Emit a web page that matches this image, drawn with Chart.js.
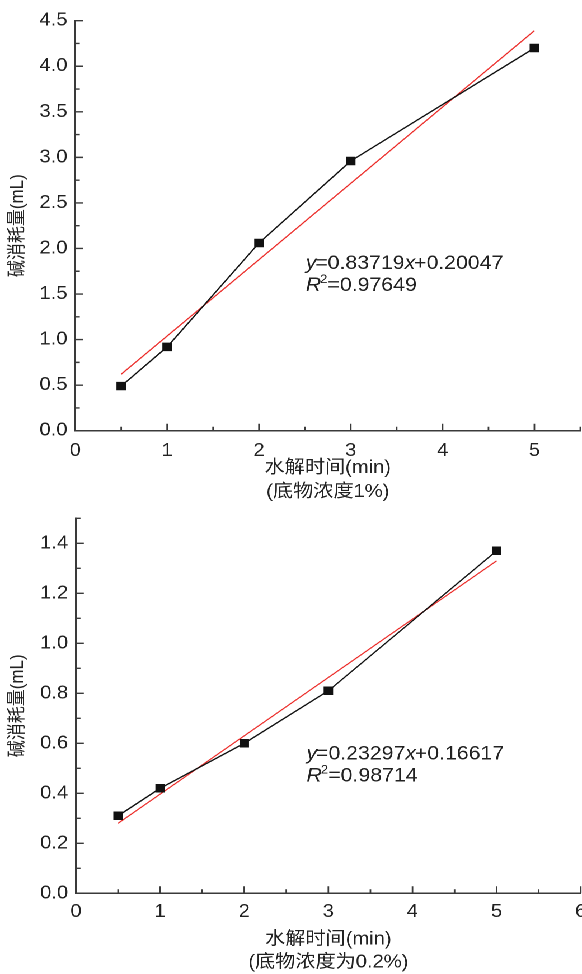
<!DOCTYPE html>
<html>
<head>
<meta charset="utf-8">
<script src="https://cdn.jsdelivr.net/npm/chart.js@4"></script>
<style>
  html, body { margin: 0; padding: 0; background: #fff; overflow: hidden; }
  #wrap { position: absolute; left: 0; top: 0; width: 520px; height: 974px; transform: scaleX(1.1192); transform-origin: 0 0; }
  canvas { position: absolute; left: 0; display: block; }
</style>
</head>
<body>
<div id="wrap">
  <canvas id="topChart" width="520" height="505" style="top:0"></canvas>
  <canvas id="bottomChart" width="520" height="469" style="top:505px"></canvas>
</div>
<script>
// measured values
const hydrolysisTime = [0.5, 1, 2, 3, 5];
const alkaliTop = [0.49, 0.92, 2.06, 2.96, 4.20];
const alkaliBottom = [0.31, 0.42, 0.60, 0.81, 1.37];

// fitted lines, read at both ends
const fitX = [0.5, 5];
const fitTop = [0.62, 4.39];
const fitBottom = [0.28, 1.33];

// equation text: slope, intercept, R^2
const eqTop = ['0.83719', '0.20047', '0.97649'];
const eqBottom = ['0.23297', '0.16617', '0.98714'];

const yTitle = '碱消耗量(mL)';
const xTitleTop = ['水解时间(min)', '(底物浓度1%)'];
const xTitleBottom = ['水解时间(min)', '(底物浓度为0.2%)'];

const FONT = "'Liberation Sans', 'Noto Sans CJK SC', Arial, sans-serif";
const INK = '#222';
const AXIS = '#3a3a3a';

Chart.defaults.font.family = FONT;
Chart.defaults.color = INK;

function pts(xs, ys) {
  return xs.map(function (x, i) { return { x: x, y: ys[i] }; });
}

// ticks drawn inward (major + minor)
const inwardTicks = {
  id: 'inwardTicks',
  afterDraw(chart, args, opts) {
    const ctx = chart.ctx;
    const area = chart.chartArea;
    const sx = chart.scales.x, sy = chart.scales.y;
    ctx.save();
    ctx.strokeStyle = AXIS;
    ctx.lineWidth = 1.4;
    ctx.beginPath();
    let n = Math.round((sx.max - sx.min) / opts.xMinor);
    for (let i = 0; i <= n; i++) {
      const v = sx.min + i * opts.xMinor;
      const r = v / opts.xMajor;
      const len = Math.abs(r - Math.round(r)) < 1e-6 ? 7 : 4;
      const px = sx.getPixelForValue(v);
      ctx.moveTo(px, area.bottom);
      ctx.lineTo(px, area.bottom - len);
    }
    n = Math.round((sy.max - sy.min) / opts.yMinor);
    for (let i = 0; i <= n; i++) {
      const v = sy.min + i * opts.yMinor;
      const r = v / opts.yMajor;
      const len = Math.abs(r - Math.round(r)) < 1e-6 ? 7 : 4;
      const py = sy.getPixelForValue(v);
      ctx.moveTo(area.left, py);
      ctx.lineTo(area.left + len, py);
    }
    ctx.stroke();
    ctx.restore();
  }
};

// regression equation with italic y, x, R and superscript 2
const equation = {
  id: 'equation',
  afterDraw(chart, args, opts) {
    const ctx = chart.ctx;
    const sx = chart.scales.x, sy = chart.scales.y;
    const x0 = sx.getPixelForValue(opts.at[0]);
    const lines = [
      [['y', 'italic'], ['=' + opts.eq[0], ''], ['x', 'italic'], ['+' + opts.eq[1], '']],
      [['R', 'italic'], ['2', 'sup'], ['=' + opts.eq[2], '']]
    ];
    ctx.save();
    ctx.fillStyle = INK;
    ctx.textBaseline = 'middle';
    ctx.textAlign = 'left';
    lines.forEach(function (parts, li) {
      const py = sy.getPixelForValue(opts.at[1 + li]);
      let px = x0;
      parts.forEach(function (p) {
        let dy = 0;
        if (p[1] === 'italic') ctx.font = 'italic 19px ' + FONT;
        else if (p[1] === 'sup') { ctx.font = '12px ' + FONT; dy = -6; }
        else ctx.font = '19px ' + FONT;
        ctx.fillText(p[0], px, py + dy);
        px += ctx.measureText(p[0]).width - (p[1] === 'italic' ? 1 : 0);
      });
    });
    ctx.restore();
  }
};

function makeChart(id, cfg) {
  const ctx = document.getElementById(id).getContext('2d');
  return new Chart(ctx, {
    type: 'scatter',
    data: {
      datasets: [{
        data: pts(hydrolysisTime, cfg.values),
        showLine: true,
        borderColor: '#111',
        borderWidth: 1.3,
        pointStyle: 'rect',
        pointRadius: 6,
        pointBackgroundColor: '#111',
        pointBorderColor: '#111',
        pointBorderWidth: 0
      }, {
        data: pts(fitX, cfg.fit),
        showLine: true,
        borderColor: '#ec2f2c',
        borderWidth: 1.2,
        pointRadius: 0
      }]
    },
    plugins: [inwardTicks, equation],
    options: {
      responsive: false,
      devicePixelRatio: 2,
      animation: false,
      layout: {
        autoPadding: false,
        padding: { top: cfg.padTop, right: cfg.padRight, left: 0, bottom: 0 }
      },
      plugins: {
        legend: { display: false },
        tooltip: { enabled: false },
        inwardTicks: { xMajor: 1, xMinor: 0.5, yMajor: cfg.yStep, yMinor: cfg.yStep / 2 },
        equation: { eq: cfg.eq, at: cfg.eqAt }
      },
      scales: {
        x: {
          type: 'linear',
          min: 0,
          max: cfg.xMax,
          grid: { display: false, drawTicks: false },
          border: { display: true, color: AXIS, width: 1.5 },
          ticks: {
            stepSize: 1,
            includeBounds: false,
            padding: cfg.xTickPad,
            font: { size: 18 },
            color: INK,
            maxRotation: 0,
            autoSkip: false,
            callback: function (v) { return String(v); }
          },
          title: {
            display: true,
            text: cfg.xTitle,
            font: { size: 18, lineHeight: cfg.titleLine + 'px' },
            color: INK,
            padding: { top: 0, bottom: cfg.titlePad }
          },
          afterFit: function (scale) {
            scale.height = cfg.xHeight;
            scale.paddingLeft = 0;
            scale.paddingRight = 0;
          }
        },
        y: {
          type: 'linear',
          min: 0,
          max: cfg.yMax,
          grid: { display: false, drawTicks: false },
          border: { display: true, color: AXIS, width: 1.5 },
          ticks: {
            stepSize: cfg.yStep,
            includeBounds: false,
            padding: 7,
            font: { size: 18 },
            color: INK,
            callback: function (v) { return Number(v).toFixed(1); }
          },
          title: {
            display: true,
            text: yTitle,
            font: { size: 17, lineHeight: '20px' },
            color: INK,
            padding: { top: 5.6, bottom: 0 }
          },
          afterFit: function (scale) {
            scale.width = cfg.yWidth;
            scale.paddingTop = 0;
            scale.paddingBottom = 0;
          }
        }
      }
    }
  });
}

makeChart('topChart', {
  values: alkaliTop,
  fit: fitTop,
  eq: eqTop,
  eqAt: [2.51, 1.83, 1.59],
  xMax: 5.5,
  yMax: 4.5,
  yStep: 0.5,
  xTitle: xTitleTop,
  padTop: 20.7,
  padRight: 1.5,
  xHeight: 74.3,
  yWidth: 67.3,
  xTickPad: 9.5,
  titleLine: 24,
  titlePad: 1
});

makeChart('bottomChart', {
  values: alkaliBottom,
  fit: fitBottom,
  eq: eqBottom,
  eqAt: [2.74, 0.557, 0.469],
  xMax: 6,
  yMax: 1.5,
  yStep: 0.2,
  xTitle: xTitleBottom,
  padTop: 13.3,
  padRight: 1.1,
  xHeight: 80.7,
  yWidth: 67.9,
  xTickPad: 8,
  titleLine: 23,
  titlePad: 0
});
</script>
</body>
</html>
